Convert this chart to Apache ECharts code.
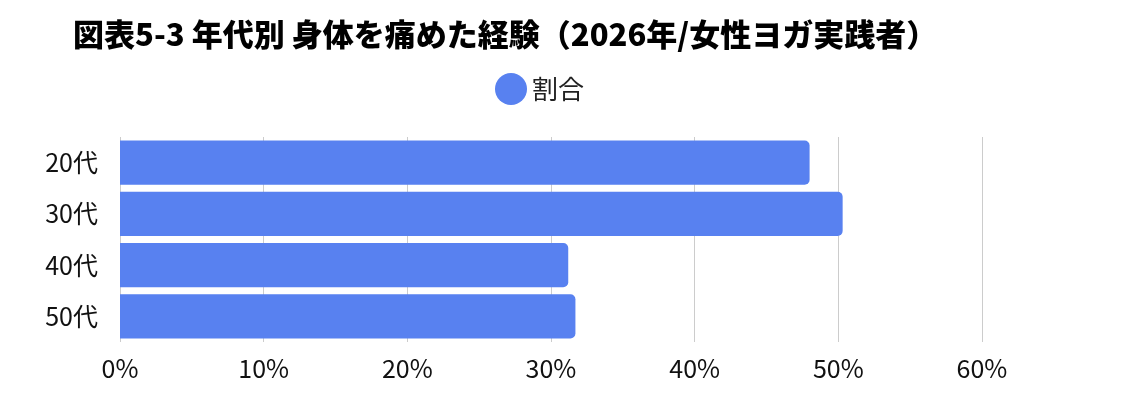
<!DOCTYPE html>
<html>
<head>
<meta charset="utf-8">
<script src="https://cdn.jsdelivr.net/npm/echarts@6/dist/echarts.min.js"></script>
<style>html,body{margin:0;padding:0;background:#fff;}#box{width:1138px;height:402px;}</style>
</head>
<body>
<div id="box"></div>
<script>
var categories = ['20代', '30代', '40代', '50代'];
var values = [48.0, 50.3, 31.2, 31.7];
var ticks = [0, 10, 20, 30, 40, 50, 60];

var font = '"Noto Sans CJK JP", "Noto Sans", sans-serif';
var myChart = echarts.init(document.getElementById('box'));
var option = {
    textStyle: { fontFamily: font },
    title: {
        text: '図表5-3 年代別 身体を痛めた経験（2026年/女性ヨガ実践者）',
        left: 68,
        top: 14,
        textStyle: { fontSize: 31, fontWeight: 900, color: '#000', fontFamily: font }
    },
    legend: {
        top: 68,
        left: 490,
        icon: 'circle',
        itemWidth: 32,
        itemHeight: 32,
        itemGap: 8,
        textStyle: { fontSize: 26, color: '#222', fontFamily: font },
        data: ['割合']
    },
    grid: { left: 120, right: 156, top: 137, bottom: 60 },
    xAxis: {
        type: 'value',
        min: 0,
        max: 60,
        interval: 10,
        axisLabel: { formatter: '{value}%', fontSize: 25, color: '#111', margin: 14, fontFamily: font },
        splitLine: { lineStyle: { color: '#ccc', width: 1 } },
        axisLine: { show: false },
        axisTick: { show: false }
    },
    yAxis: {
        type: 'category',
        inverse: true,
        data: categories,
        axisLabel: { fontSize: 25, color: '#111', margin: 22, fontFamily: font },
        axisLine: { show: false },
        axisTick: { show: false }
    },
    series: [{
        name: '割合',
        type: 'bar',
        data: values,
        barWidth: '86%',
        itemStyle: { color: '#5881F0', borderRadius: [0, 5, 5, 0] }
    }]
};
option && myChart.setOption(option);
</script>
</body>
</html>
